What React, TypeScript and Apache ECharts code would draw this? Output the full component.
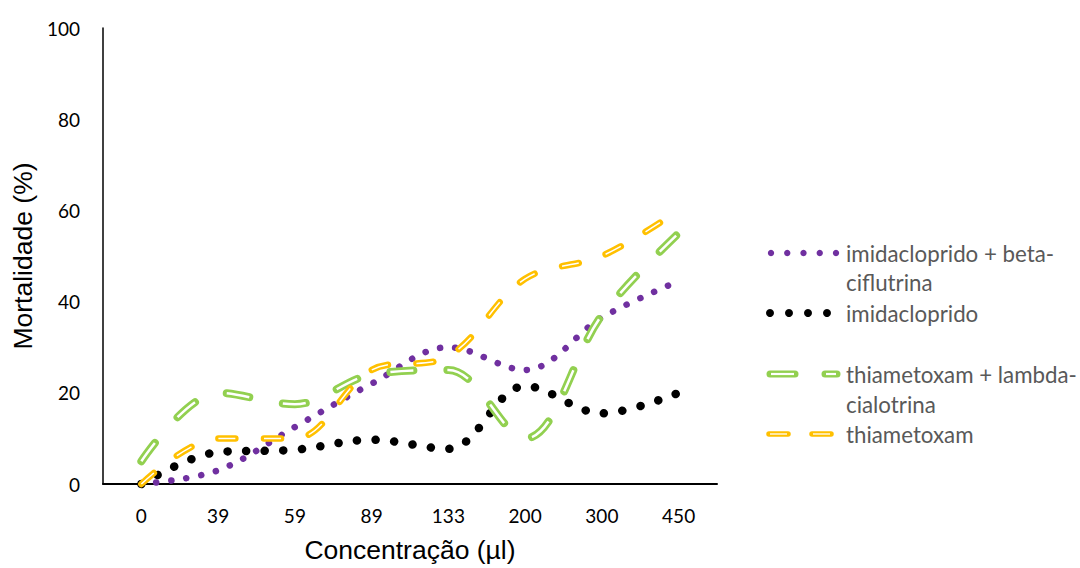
import React, { useEffect, useRef } from "react";
import * as echarts from "echarts";

// Concentrations tested (µl) and mortality (%) per treatment
const concentrations = ["0", "39", "59", "89", "133", "200", "300", "450"];
const imidaclopridoBeta = [0, 3, 12.5, 22, 30, 25, 36.5, 44.5];
const imidacloprido = [0, 7, 7.5, 9.7, 7.7, 21.5, 15.5, 20];
const thiametoxamLambda = [5, 20, 17.5, 24, 25, 10, 37, 55];
const thiametoxam = [0, 10, 10, 25, 28, 45, 50, 60];

const PURPLE = "#7030A0";
const BLACK = "#000000";
const GREEN = "#92D050";
const YELLOW = "#FFC000";
const LEGEND_TEXT = "#595959";
const LABEL_FONT = "Lato";
const TITLE_FONT = "Liberation Sans";

const SMOOTH = 0.35;

function line(
  name: string,
  data: number[],
  color: string,
  width: number,
  dash: number[],
  cap: "round" | "butt",
  z: number
) {
  return {
    name,
    type: "line",
    data,
    smooth: SMOOTH,
    showSymbol: false,
    symbol: "none",
    clip: false,
    silent: true,
    z,
    lineStyle: { color, width, type: dash, cap, join: "round" },
  };
}

export default function App() {
  const ref = useRef<HTMLDivElement>(null);

  useEffect(() => {
    if (!ref.current) return;
    const chart = echarts.init(ref.current, undefined, { renderer: "svg" });

    const greenDash = [23, 34];
    const yellowDash = [17, 28.5];

    const legendText = (x: number, y: number, text: string) => ({
      type: "text",
      x,
      y,
      style: {
        text,
        fill: LEGEND_TEXT,
        fontSize: 22.3,
        fontFamily: LABEL_FONT,
        verticalAlign: "middle",
      },
    });

    const dots = (x0: number, step: number, n: number, y: number, r: number, color: string) =>
      Array.from({ length: n }, (_, i) => ({
        type: "circle",
        shape: { cx: x0 + i * step, cy: y, r },
        style: { fill: color },
      }));

    const dashSample = (
      segs: [number, number][],
      y: number,
      color: string,
      outer: number,
      inner: number
    ) =>
      segs.flatMap(([a, b]) => [
        {
          type: "line",
          shape: { x1: a, y1: y, x2: b, y2: y },
          style: { stroke: color, lineWidth: outer, lineCap: "round" },
        },
        {
          type: "line",
          shape: { x1: a + 1, y1: y, x2: b - 1, y2: y },
          style: { stroke: "#ffffff", lineWidth: inner, lineCap: "butt" },
        },
      ]);

    chart.setOption({
      animation: false,
      backgroundColor: "#ffffff",
      grid: { left: 103, top: 28, width: 614, height: 458, containLabel: false },
      xAxis: {
        type: "category",
        data: concentrations,
        boundaryGap: true,
        axisLine: { show: true, lineStyle: { color: "#000", width: 2 } },
        axisTick: { show: false },
        axisLabel: { color: "#000", fontSize: 19, fontFamily: LABEL_FONT, margin: 22 },
        splitLine: { show: false },
        name: "Concentração (µl)",
        nameLocation: "middle",
        nameGap: 52,
        nameTextStyle: { color: "#000", fontSize: 26.5, fontFamily: TITLE_FONT },
      },
      yAxis: {
        type: "value",
        min: 0,
        max: 100,
        interval: 20,
        axisLine: { show: true, lineStyle: { color: "#000", width: 1.5 } },
        axisTick: { show: false },
        splitLine: { show: false },
        axisLabel: { color: "#000", fontSize: 19, fontFamily: LABEL_FONT, margin: 23 },
        name: "Mortalidade (%)",
        nameLocation: "middle",
        nameGap: 60,
        nameTextStyle: { color: "#000", fontSize: 26.5, fontFamily: TITLE_FONT },
      },
      series: [
        line("imidacloprido + beta-ciflutrina", imidaclopridoBeta, PURPLE, 6.5, [0.1, 15], "round", 2),
        line("imidacloprido", imidacloprido, BLACK, 8.5, [0.1, 18.5], "round", 3),
        line("thiametoxam + lambda-cialotrina", thiametoxamLambda, GREEN, 8, greenDash, "round", 4),
        line("thiametoxam + lambda-cialotrina (centro)", thiametoxamLambda, "#ffffff", 2.5, greenDash, "butt", 5),
        line("thiametoxam", thiametoxam, YELLOW, 6.5, yellowDash, "round", 6),
        line("thiametoxam (centro)", thiametoxam, "#ffffff", 1.5, yellowDash, "butt", 7),
      ],
      graphic: [
        ...dots(771, 16.25, 5, 253, 3.2, PURPLE),
        legendText(846, 253, "imidacloprido + beta-"),
        legendText(846, 282, "ciflutrina"),
        ...dots(770, 19, 4, 313, 4, BLACK),
        legendText(846, 313, "imidacloprido"),
        ...dashSample([[770, 795], [825, 837]], 374, GREEN, 7, 2.2),
        legendText(846, 374, "thiametoxam + lambda-"),
        legendText(846, 404, "cialotrina"),
        ...dashSample([[769, 788], [812, 831]], 434, YELLOW, 5.5, 1.3),
        legendText(846, 434, "thiametoxam"),
      ],
    });

    return () => chart.dispose();
  }, []);

  return (
    <div
      ref={ref}
      style={{ position: "fixed", left: 0, top: 0, width: 1080, height: 568, background: "#fff" }}
    />
  );
}
